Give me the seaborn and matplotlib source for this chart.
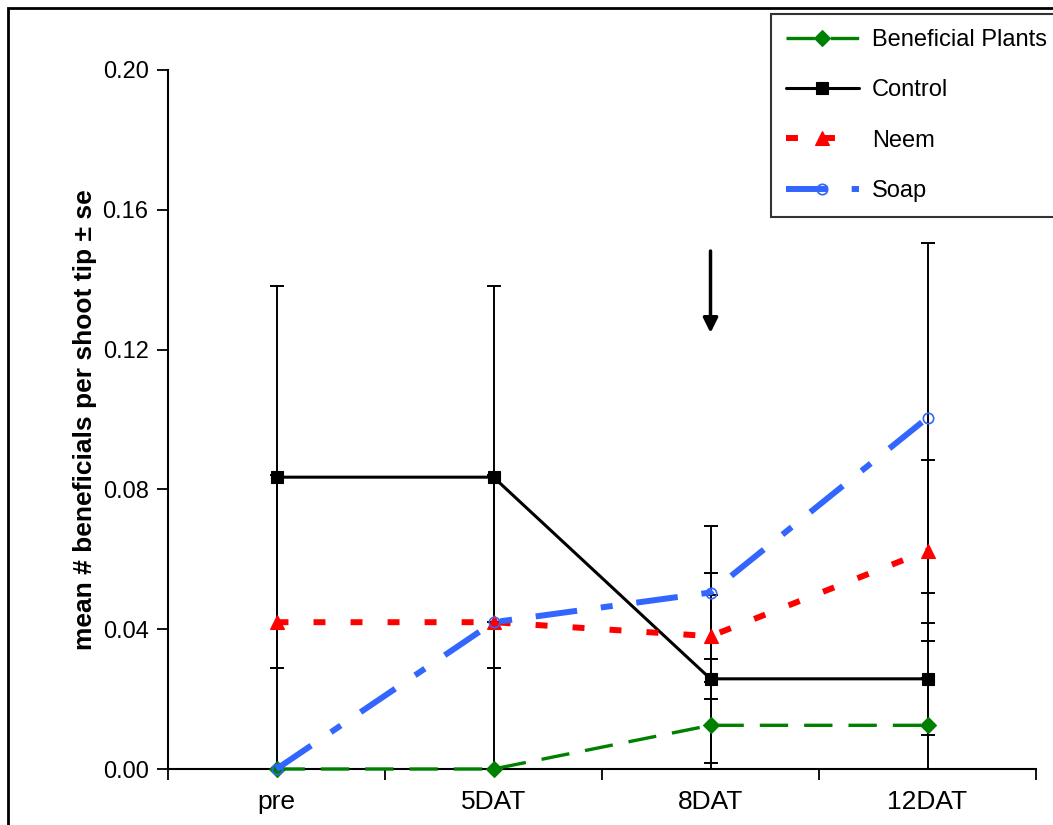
import numpy as np
import pandas as pd
import matplotlib
matplotlib.use("Agg")
import matplotlib.pyplot as plt
import seaborn as sns
from matplotlib.patches import Rectangle

# data
categories = ["pre", "5DAT", "8DAT", "12DAT"]
beneficial = [0.0, 0.0, 0.0125, 0.0125]
beneficial_se = [0.0, 0.0, 0.0125, 0.0135]
control = [0.0835, 0.0835, 0.0258, 0.0258]
control_se = [0.0547, 0.0547, 0.024, 0.016]
neem = [0.042, 0.042, 0.038, 0.0625]
neem_se = [0.042, 0.042, 0.018, 0.026]
soap = [0.0, 0.042, 0.0505, 0.1005]
soap_se = [0.0, 0.0, 0.019, 0.05]

sns.set_theme(style="white", rc={"text.color": "black", "axes.labelcolor": "black",
                                 "xtick.color": "black", "ytick.color": "black"})
plt.rcParams["font.family"] = ["Liberation Sans", "DejaVu Sans"]

fig = plt.figure(figsize=(10.53, 8.25), dpi=100)
ax = fig.add_axes([168 / 1053, 1 - 769 / 825, (1036 - 168) / 1053, (769 - 70) / 825])

series = [
    ("Beneficial Plants", beneficial, beneficial_se, "#008000", "D", 8.5, 2.4, (0, (8.5, 4.8))),
    ("Control", control, control_se, "black", "s", 8, 2.2, "-"),
    ("Neem", neem, neem_se, "#ff0000", "^", 10, 4.3, (0, (2, 4.2))),
    ("Soap", soap, soap_se, "#3366ff", "o", 7.5, 4.3, (0, (7, 4, 2, 4))),
]

for name, vals, se, color, marker, ms, lw, ls in series:
    df = pd.DataFrame({"time": categories, "value": vals})
    open_marker = name == "Soap"
    sns.lineplot(data=df, x="time", y="value", ax=ax, label=name, color=color,
                 linewidth=lw, linestyle=ls, marker=marker, markersize=ms,
                 markeredgecolor=color, markeredgewidth=1.2 if open_marker else 0.8,
                 markerfacecolor="none" if open_marker else color,
                 sort=False, clip_on=False, zorder=3)
    ax.errorbar(categories, vals, yerr=se, fmt="none", ecolor="black",
                elinewidth=1.4, capsize=5, capthick=1.4, zorder=2)

# treatment arrow above 8DAT
ax.annotate("", xy=(categories.index("8DAT"), 0.124), xytext=(categories.index("8DAT"), 0.149),
            arrowprops=dict(arrowstyle="-|>", color="black", lw=2.5, mutation_scale=22))

ax.set_xlim(-0.5, 3.5)
ax.set_ylim(0, 0.2)
ax.set_yticks(np.arange(0, 0.201, 0.04))
ax.set_yticklabels([f"{v:.2f}" for v in np.arange(0, 0.201, 0.04)])
ax.set_xticks(np.arange(-0.5, 3.6, 1))
ax.set_xticklabels([])
ax.set_xticks(range(len(categories)), minor=True)
ax.set_xticklabels(categories, minor=True)
ax.tick_params(axis="x", which="major", direction="out", length=8, width=1.3, bottom=True)
ax.tick_params(axis="x", which="minor", length=0, labelsize=19, pad=15)
ax.tick_params(axis="y", direction="out", length=8, width=1.3, left=True, labelsize=17, pad=6)

ax.set_xlabel("")
ax.set_ylabel("mean # beneficials per shoot tip ± se", fontsize=19, fontweight="bold", labelpad=4)

sns.despine(ax=ax)
for side in ["left", "bottom"]:
    ax.spines[side].set_color("black")
    ax.spines[side].set_linewidth(1.5)

leg = ax.legend(loc="upper left", bbox_to_anchor=(771 / 1053, 1 - 14 / 825),
                bbox_transform=fig.transFigure, borderaxespad=0, fontsize=17,
                frameon=True, fancybox=False, edgecolor="black", handlelength=3.1,
                labelspacing=1.2, borderpad=0.63, handletextpad=0.55)
leg.get_frame().set_linewidth(1.5)

# outer chart border (cut off at right and bottom in the original)
fig.patches.append(Rectangle((8 / 1053, -0.1), 1.2, 1.1 - 8 / 825, transform=fig.transFigure,
                             fill=False, edgecolor="black", linewidth=2.0))

fig.savefig("out.png", dpi=100)
